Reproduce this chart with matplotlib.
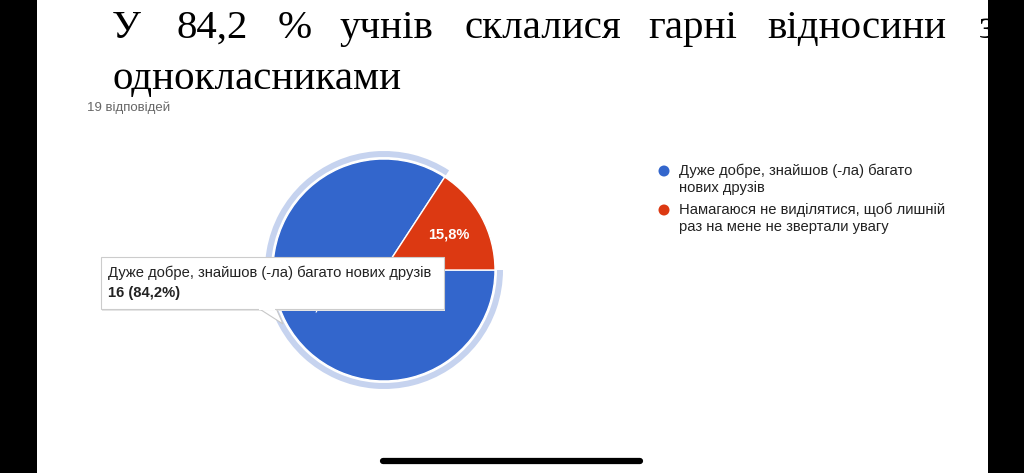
import matplotlib
matplotlib.use('Agg')
import matplotlib.pyplot as plt
from matplotlib.patches import Rectangle, Wedge, Polygon, FancyBboxPatch, Circle

# дані
categories = ['Дуже добре, знайшов (-ла) багато нових друзів',
              'Намагаюся не виділятися, щоб лишній раз на мене не звертали увагу']
legend_lines = [['Дуже добре, знайшов (-ла) багато', 'нових друзів'],
                ['Намагаюся не виділятися, щоб лишній', 'раз на мене не звертали увагу']]
counts = [16, 3]
colors = ['#3366cc', '#dc3912']
total = sum(counts)

title_words = ['У', '84,2', '%', 'учнів', 'склалися', 'гарні', 'відносини', 'з']
title_x = [112, 177, 278, 340, 465, 648, 767, 979]
title_line2 = 'однокласниками'
responses = f'{total} відповідей'

W, H = 1024, 473
def Y(y):
    return H - y

fig = plt.figure(figsize=(W / 100, H / 100), dpi=100)
ax = fig.add_axes([0, 0, 1, 1])

SANS = ['Liberation Sans', 'DejaVu Sans']
SERIF = ['Liberation Serif', 'DejaVu Serif']

# заголовок
for w, x in zip(title_words, title_x):
    ax.text(x, Y(38), w, fontsize=29.5, family=SERIF, color='black', va='baseline', ha='left')
ax.text(112, Y(89), title_line2, fontsize=29.5, family=SERIF, color='black', va='baseline', ha='left')
ax.text(87, Y(108), responses, fontsize=9.5, family=SANS, color='#666666', va='center', ha='left')

# кругова діаграма
cx, cy, r = 384, 270, 111
start = 360 * counts[1] / total
wedges, texts, autotexts = ax.pie(
    counts, colors=colors, startangle=start, counterclock=True,
    center=(cx, Y(cy)), radius=r, pctdistance=0.666,
    autopct=lambda p: f'{p:.1f}%'.replace('.', ','),
    wedgeprops=dict(edgecolor='white', linewidth=1),
    textprops=dict(color='white', fontsize=10.5, family=SANS, fontweight='bold'))

# підсвічування вибраного сектора
halo = Wedge((cx, Y(cy)), r + 8, start, 360, width=6, facecolor='#c6d3ef', edgecolor='none', zorder=0)
ax.add_patch(halo)

# підказка
tail = Polygon([[258, Y(308)], [283, Y(324)], [276, Y(308)]], closed=True,
               facecolor='white', edgecolor='#c8c8c8', linewidth=0.8, zorder=5)
ax.add_patch(tail)
shadow = FancyBboxPatch((102, Y(311)), 343, 53, boxstyle='square,pad=0',
                        facecolor='#e6e6e6', edgecolor='none', zorder=4)
ax.add_patch(shadow)
box = FancyBboxPatch((101, Y(309)), 343, 52, boxstyle='square,pad=0',
                     facecolor='white', edgecolor='#cccccc', linewidth=0.8, zorder=6)
ax.add_patch(box)
ax.add_patch(Rectangle((259, Y(310)), 16, 3, facecolor='white', edgecolor='none', zorder=7))
ax.text(108, Y(273), categories[0], fontsize=10.6, family=SANS, color='#222222',
        va='center', ha='left', zorder=8)
pct0 = f'{100 * counts[0] / total:.1f}%'.replace('.', ',')
ax.text(108, Y(293), f'{counts[0]} ({pct0})', fontsize=10.6, family=SANS, color='#222222',
        fontweight='bold', va='center', ha='left', zorder=8)

# легенда
leg_y = [171, 210]
for lines, col, ly in zip(legend_lines, colors, leg_y):
    ax.add_patch(Circle((664, Y(ly)), 5.5, facecolor=col, edgecolor='none'))
    for i, ln in enumerate(lines):
        ax.text(679, Y(ly + 17 * i), ln, fontsize=10.6, family=SANS, color='#222222',
                va='center', ha='left')

# рамки екрана
ax.add_patch(Rectangle((0, 0), 37, H, facecolor='black', edgecolor='none', zorder=20))
ax.add_patch(Rectangle((988, 0), W - 988, H, facecolor='black', edgecolor='none', zorder=20))
ax.plot([383, 640], [Y(461), Y(461)], color='black', linewidth=4.5, solid_capstyle='round', zorder=20)

ax.set_xlim(0, W)
ax.set_ylim(0, H)
ax.set_aspect('auto')
ax.axis('off')

fig.savefig('out.png', dpi=100, facecolor='white')
